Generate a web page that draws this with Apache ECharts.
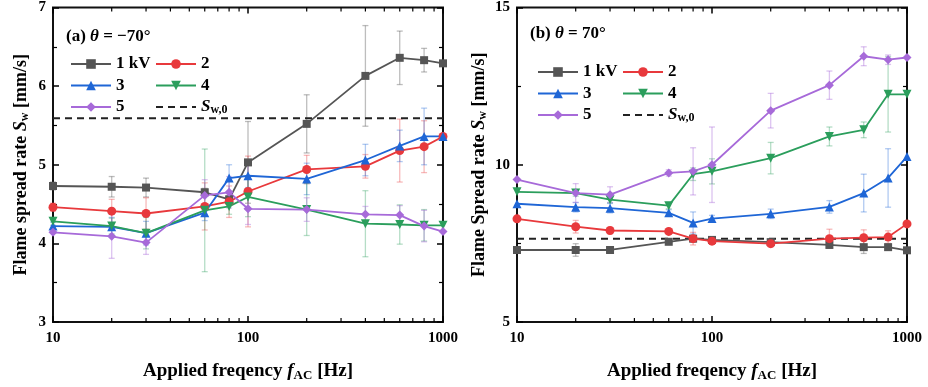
<!DOCTYPE html>
<html>
<head>
<meta charset="utf-8">
<script src="https://cdn.jsdelivr.net/npm/echarts@6/dist/echarts.min.js"></script>
<style>
  html, body { margin: 0; padding: 0; background: #fff; }
  #chart { width: 928px; height: 387px; }
</style>
</head>
<body>
<div id="chart"></div>
<script>
// frequencies (Hz)
const freq = [10, 20, 30, 60, 80, 100, 200, 400, 600, 800, 1000];
const voltages = ['1 kV', '2', '3', '4', '5'];

// (a) theta = -70 deg
const a1 = [4.73, 4.72, 4.71, 4.65, 4.56, 5.03, 5.52, 6.13, 6.36, 6.33, 6.29];
const a2 = [4.46, 4.41, 4.38, 4.47, 4.53, 4.66, 4.94, 4.98, 5.18, 5.23, 5.36];
const a3 = [4.22, 4.21, 4.13, 4.39, 4.83, 4.86, 4.82, 5.06, 5.24, 5.36, 5.36];
const a4 = [4.28, 4.22, 4.13, 4.42, 4.47, 4.59, 4.43, 4.25, 4.24, 4.23, 4.23];
const a5 = [4.14, 4.09, 4.01, 4.61, 4.65, 4.44, 4.43, 4.37, 4.36, 4.22, 4.15];
const ea1 = [0.05, 0.13, 0.12, 0.05, 0.05, 0.52, 0.37, 0.64, 0.34, 0.15, 0];
const ea2 = [0.05, 0.15, 0.2, 0.3, 0.2, 0.45, 0.18, 0.15, 0.4, 0.33, 0];
const ea3 = [0.05, 0.12, 0.15, 0.1, 0.17, 0.15, 0.2, 0.2, 0.2, 0.36, 0];
const ea4 = [0.05, 0.1, 0.2, 0.78, 0.1, 0.25, 0.33, 0.42, 0.25, 0.2, 0];
const ea5 = [0, 0.28, 0.15, 0.2, 0.2, 0.2, 0.15, 0.1, 0.12, 0.2, 0];
const swA = 5.59;

// (b) theta = 70 deg
const b1 = [7.29, 7.29, 7.29, 7.55, 7.65, 7.61, 7.54, 7.45, 7.38, 7.38, 7.28];
const b2 = [8.28, 8.03, 7.91, 7.88, 7.65, 7.57, 7.49, 7.65, 7.68, 7.70, 8.12];
const b3 = [8.76, 8.65, 8.62, 8.47, 8.15, 8.29, 8.44, 8.66, 9.10, 9.58, 10.26];
const b4 = [9.14, 9.10, 8.89, 8.70, 9.70, 9.79, 10.21, 10.90, 11.11, 12.24, 12.24];
const b5 = [9.53, 9.10, 9.05, 9.74, 9.79, 10.0, 11.72, 12.53, 13.45, 13.34, 13.41];
const eb1 = [0, 0.2, 0.05, 0.05, 0.1, 0.1, 0.05, 0.1, 0.2, 0.05, 0];
const eb2 = [0, 0.2, 0.1, 0.05, 0.2, 0.1, 0.1, 0.3, 0.25, 0.2, 0];
const eb3 = [0, 0.15, 0.15, 0.1, 0.35, 0.1, 0.15, 0.2, 0.6, 0.93, 0];
const eb4 = [0, 0.1, 0.1, 0.1, 0.2, 0.4, 0.5, 0.3, 0.25, 1.2, 0];
const eb5 = [0, 0.3, 0.25, 0.1, 0.75, 1.2, 0.55, 0.45, 0.3, 0.15, 0];
const swB = 7.65;

// minor tick positions on the log axis
const minorX = [20, 30, 40, 50, 60, 70, 80, 90, 200, 300, 400, 500, 600, 700, 800, 900];

const colors = ['#555555', '#e8393c', '#1f66d6', '#2b9e5c', '#a76ad9'];
const barColors = ['rgba(90,90,90,0.4)', 'rgba(232,57,60,0.35)', 'rgba(31,102,214,0.35)',
  'rgba(43,158,92,0.35)', 'rgba(167,106,217,0.4)'];
const symbols = ['rect', 'circle', 'triangle', 'triangle', 'diamond'];
const rotates = [0, 0, 0, 180, 0];

const FONT = '"Liberation Serif", "DejaVu Serif", serif';
const chart = echarts.init(document.getElementById('chart'));

function xAxes(gi) {
  const base = {
    type: 'log', logBase: 10, min: 10, max: 1000, gridIndex: gi,
    axisLine: { show: false },
    axisTick: { show: true, inside: true, length: 6, lineStyle: { color: '#000', width: 1.5 } },
    splitLine: { show: false },
  };
  return [
    { ...base, position: 'bottom',
      axisLabel: { color: '#000', fontFamily: FONT, fontWeight: 'bold', fontSize: 15, margin: 9,
        formatter: (v) => String(Math.round(v)) },
      name: 'Applied freqency {i|f}{s|AC} [Hz]', nameLocation: 'middle', nameGap: 39,
      nameTextStyle: { color: '#000', fontFamily: FONT, fontWeight: 'bold', fontSize: 19,
        rich: { i: { fontFamily: FONT, fontStyle: 'italic', fontWeight: 'bold', fontSize: 19, color: '#000' },
                s: { fontFamily: FONT, fontWeight: 'bold', fontSize: 13, color: '#000', verticalAlign: 'bottom', padding: [8, 0, 0, 0] } } } },
    { ...base, position: 'top', axisLabel: { show: false } },
  ];
}

function yAxes(gi, min, max, interval, name, gap) {
  const base = {
    type: 'value', min, max, interval, gridIndex: gi,
    axisLine: { show: false },
    axisTick: { show: true, inside: true, length: 6, lineStyle: { color: '#000', width: 1.5 } },
    minorTick: { show: true, splitNumber: 2, length: 4, lineStyle: { color: '#000', width: 1.2 } },
    splitLine: { show: false },
  };
  return [
    { ...base, position: 'left',
      axisLabel: { color: '#000', fontFamily: FONT, fontWeight: 'bold', fontSize: 15, margin: 7 },
      name, nameLocation: 'middle', nameGap: gap,
      nameTextStyle: { color: '#000', fontFamily: FONT, fontWeight: 'bold', fontSize: 18,
        rich: { i: { fontFamily: FONT, fontStyle: 'italic', fontWeight: 'bold', fontSize: 18, color: '#000' },
                s: { fontFamily: FONT, fontWeight: 'bold', fontSize: 12, color: '#000', verticalAlign: 'bottom', padding: [8, 0, 0, 0] } } } },
    { ...base, position: 'right', axisLabel: { show: false } },
  ];
}

function panelSeries(gi, vals, errs, sw) {
  const out = [];
  vals.forEach((v, k) => {
    out.push({
      type: 'custom', xAxisIndex: gi * 2, yAxisIndex: gi * 2, z: 1, silent: true,
      data: freq.map((f, i) => [f, v[i] - errs[k][i], v[i] + errs[k][i]]).filter((d, i) => errs[k][i] > 0),
      encode: { x: 0, y: [1, 2] },
      renderItem: (params, api) => {
        const x = api.value(0);
        const lo = api.coord([x, api.value(1)]);
        const hi = api.coord([x, api.value(2)]);
        const st = { stroke: barColors[k], lineWidth: 1.3 };
        return { type: 'group', children: [
          { type: 'line', shape: { x1: lo[0], y1: lo[1], x2: hi[0], y2: hi[1] }, style: st },
          { type: 'line', shape: { x1: lo[0] - 3, y1: lo[1], x2: lo[0] + 3, y2: lo[1] }, style: st },
          { type: 'line', shape: { x1: hi[0] - 3, y1: hi[1], x2: hi[0] + 3, y2: hi[1] }, style: st },
        ] };
      },
    });
    out.push({
      type: 'line', name: voltages[k], xAxisIndex: gi * 2, yAxisIndex: gi * 2, z: 3,
      data: freq.map((f, i) => [f, v[i]]),
      symbol: symbols[k], symbolRotate: rotates[k], symbolSize: k === 0 ? 8 : 9,
      lineStyle: { color: colors[k], width: 1.8 },
      itemStyle: { color: colors[k] },
    });
  });
  out.push({
    type: 'line', name: 'Sw0', xAxisIndex: gi * 2, yAxisIndex: gi * 2, z: 2,
    data: [[10, sw], [1000, sw]], symbol: 'none',
    lineStyle: { color: '#222', width: 2, type: [7, 5] },
    itemStyle: { color: '#222' },
  });
  // log-axis minor ticks, bottom and top
  out.push({
    type: 'custom', xAxisIndex: gi * 2, yAxisIndex: gi * 2, z: 4, silent: true,
    data: minorX.map((m) => [m]),
    renderItem: (params, api) => {
      const p = api.coord([api.value(0), 0]);
      const cs = params.coordSys;
      const st = { stroke: '#000', lineWidth: 1.2 };
      return { type: 'group', children: [
        { type: 'line', shape: { x1: p[0], y1: cs.y + cs.height, x2: p[0], y2: cs.y + cs.height - 4 }, style: st },
        { type: 'line', shape: { x1: p[0], y1: cs.y, x2: p[0], y2: cs.y + 4 }, style: st },
      ] };
    },
  });
  return out;
}

const legendText = {
  color: '#000', fontFamily: FONT, fontWeight: 'bold', fontSize: 17, lineHeight: 18,
  rich: { i: { fontFamily: FONT, fontStyle: 'italic', fontWeight: 'bold', fontSize: 17, lineHeight: 18, color: '#000' },
          s: { fontFamily: FONT, fontWeight: 'bold', fontSize: 12, lineHeight: 18, color: '#000', verticalAlign: 'bottom', padding: [6, 0, 0, 0] } },
};
function legend(left, top, names) {
  return {
    left, top, orient: 'vertical', itemWidth: 40, itemHeight: 12, itemGap: 3.5, padding: 0,
    itemTextGap: 5, selectedMode: false, textStyle: legendText,
    data: names.map((n) => (n === 'Sw0' ? { name: n, itemStyle: { opacity: 0 } } : n)),
    formatter: (n) => (n === 'Sw0' ? '{i|S}{s|w,0}' : n),
  };
}

const titleText = {
  color: '#000', fontFamily: FONT, fontWeight: 'bold', fontSize: 17,
  rich: { i: { fontFamily: FONT, fontStyle: 'italic', fontWeight: 'bold', fontSize: 17, color: '#000' } },
};

chart.setOption({
  animation: false,
  backgroundColor: '#fff',
  title: [
    { text: '(a) {i|θ} = −70°', left: 66, top: 28, padding: 0, textStyle: titleText },
    { text: '(b) {i|θ} = 70°', left: 530, top: 25, padding: 0, textStyle: titleText },
  ],
  legend: [
    legend(70, 55, ['1 kV', '3', '5']),
    legend(155, 55, ['2', '4', 'Sw0']),
    legend(537, 63, ['1 kV', '3', '5']),
    legend(622, 63, ['2', '4', 'Sw0']),
  ],
  grid: [
    { left: 53, right: 485, top: 7, bottom: 65, show: true, borderColor: '#111', borderWidth: 2 },
    { left: 517, right: 21, top: 7, bottom: 65, show: true, borderColor: '#111', borderWidth: 2 },
  ],
  xAxis: [...xAxes(0), ...xAxes(1)],
  yAxis: [
    ...yAxes(0, 3, 7, 1, 'Flame spread rate {i|S}{s|w} [mm/s]', 22),
    ...yAxes(1, 5, 15, 5, 'Flame Spread rate {i|S}{s|w} [mm/s]', 28),
  ],
  series: [
    ...panelSeries(0, [a1, a2, a3, a4, a5], [ea1, ea2, ea3, ea4, ea5], swA),
    ...panelSeries(1, [b1, b2, b3, b4, b5], [eb1, eb2, eb3, eb4, eb5], swB),
  ],
});
</script>
</body>
</html>
